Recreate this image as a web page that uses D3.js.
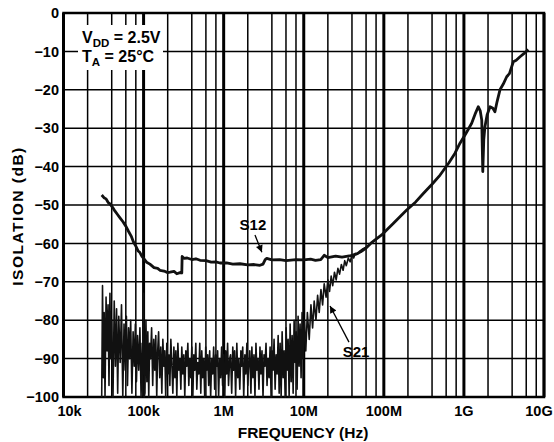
<!DOCTYPE html>
<html>
<head>
<meta charset="utf-8">
<script src="https://cdn.jsdelivr.net/npm/d3@7"></script>
<style>
  body { margin: 0; background: #fff; }
  text { font-family: "Liberation Sans", Arial, sans-serif; font-weight: bold; fill: #000; }
</style>
</head>
<body>
<svg id="chart" width="554" height="442"></svg>
<script>
// axis values
var yTicks = [0, -10, -20, -30, -40, -50, -60, -70, -80, -90, -100];
var xDecades = [1e4, 1e5, 1e6, 1e7, 1e8, 1e9, 1e10];
var xTickLabels = ["10k", "100k", "1M", "10M", "100M", "1G", "10G"];
var minorSteps = [2, 4, 6, 8];

// S12 isolation curve [Hz, dB]
var s12 = [
  [30e3,-47.4],[32e3,-48.1],[34e3,-48.4],[36e3,-49.3],[38e3,-49.7],[41e3,-50.6],[44e3,-51.6],
  [47e3,-52.4],[51e3,-53.4],[55e3,-54.3],[60e3,-55.5],[65e3,-56.9],[70e3,-58.1],[75e3,-59.7],
  [80e3,-60.7],[85e3,-61.9],[90e3,-62.4],[95e3,-63.3],[100e3,-63.9],[109e3,-64.9],[120e3,-65.4],
  [135e3,-66.3],[150e3,-66.5],[160e3,-67.0],[180e3,-67.2],[200e3,-67.6],[214e3,-67.5],[240e3,-67.3],
  [260e3,-67.9],[285e3,-67.6],[300e3,-67.7],[303e3,-63.4],[320e3,-63.9],[350e3,-63.8],[400e3,-64.2],
  [450e3,-64.0],[507e3,-64.4],[600e3,-64.5],[700e3,-64.9],[800e3,-64.8],[900e3,-65.1],[1.09e6,-65.1],
  [1.3e6,-65.4],[1.6e6,-65.3],[2e6,-65.6],[2.4e6,-65.5],[2.84e6,-65.7],[3.1e6,-65.4],[3.3e6,-64.2],
  [3.45e6,-63.9],[4e6,-64.3],[5e6,-64.2],[6e6,-64.5],[8e6,-64.2],[10e6,-64.3],[12.2e6,-64.1],
  [14e6,-64.4],[16.3e6,-64.2],[18e6,-63.1],[20e6,-63.7],[25e6,-63.3],[30e6,-63.6],[38.6e6,-63.2],
  [45e6,-62.8],[51.4e6,-62.2],[60e6,-61.2],[68.5e6,-60.0],[80e6,-58.9],[94e6,-57.8],[110e6,-56.4],
  [131e6,-54.8],[160e6,-53.0],[193e6,-51.3],[250e6,-49.2],[311e6,-47.0],[400e6,-44.6],[504e6,-42.2],
  [650e6,-39.0],[774e6,-36.5],[893e6,-33.9],[1.05e9,-31.5],[1.25e9,-28.7],[1.4e9,-26.0],[1.51e9,-24.4],
  [1.6e9,-25.5],[1.67e9,-27.9],[1.72e9,-41.3],[1.77e9,-33.0],[1.83e9,-29.6],[1.95e9,-26.5],[2.12e9,-24.4],
  [2.3e9,-24.8],[2.44e9,-25.7],[2.6e9,-23.0],[2.82e9,-20.0],[3.1e9,-18.5],[3.42e9,-16.6],[3.7e9,-15.8],
  [4.14e9,-12.7],[4.5e9,-12.3],[5.02e9,-11.4],[5.6e9,-10.6],[6.37e9,-9.5]
];

// S21 isolation curve [Hz, dB] (noisy floor below 10M)
var s21 = [
  [30e3,-100],[30.7e3,-71],[31.5e3,-95],[32.2e3,-78],[33e3,-100],[34e3,-74],[35e3,-88],[36e3,-76],
  [37e3,-97],[38e3,-73],[39e3,-90],[40e3,-80],[41.5e3,-100],[43e3,-75],[44.5e3,-92],[46e3,-77],
  [47.5e3,-99],[49e3,-79],[51e3,-91],[53e3,-76],[55e3,-100],[57e3,-81],[59e3,-93],[61e3,-79],
  [63e3,-97],[65e3,-82],[67e3,-90],[69e3,-80],[71.5e3,-99],[74e3,-83],[76.5e3,-92],[79e3,-81],
  [81.5e3,-96],[84e3,-84],[87e3,-93],[90e3,-82],[93e3,-100],[96e3,-86],[98.5e3,-94],[100e3,-73],
  [101.5e3,-100],[104e3,-99],[107e3,-80],[110e3,-96],[113e3,-83],[116e3,-100],[119e3,-86],[122e3,-90],
  [126e3,-82],[130e3,-97],[134e3,-85],[138e3,-93],[142e3,-84],[146e3,-100],[150e3,-88],[154e3,-83],
  [159e3,-95],[164e3,-87],[169e3,-99],[174e3,-85],[179e3,-92],[184e3,-88],[189e3,-100],[195e3,-86],
  [201e3,-94],[207e3,-89],[213e3,-97],[219e3,-85],[225e3,-91],[232e3,-99],[239e3,-87],[246e3,-95],
  [253e3,-88],[260e3,-100],[268e3,-86],[276e3,-93],[284e3,-90],[292e3,-98],[300e3,-87],[309e3,-94],
  [318e3,-89],[327e3,-100],[337e3,-88],[347e3,-92],[357e3,-86],[367e3,-97],[378e3,-90],[389e3,-95],
  [400e3,-87],[412e3,-100],[424e3,-89],[436e3,-93],[449e3,-86],[462e3,-98],[475e3,-91],[489e3,-94],
  [503e3,-86],[518e3,-99],[533e3,-88],[548e3,-95],[564e3,-90],[580e3,-100],[597e3,-87],[614e3,-93],
  [632e3,-89],[650e3,-97],[669e3,-88],[688e3,-100],[708e3,-90],[729e3,-94],[750e3,-87],[772e3,-98],
  [794e3,-89],[817e3,-92],[841e3,-88],[865e3,-100],[890e3,-90],[916e3,-95],[943e3,-87],[970e3,-97],
  [998e3,-89],
  [1.03e6,-100],[1.06e6,-88],[1.09e6,-94],[1.12e6,-86],[1.15e6,-97],[1.19e6,-90],[1.22e6,-89],
  [1.26e6,-99],[1.3e6,-87],[1.33e6,-93],[1.37e6,-88],[1.41e6,-100],[1.46e6,-86],[1.5e6,-95],
  [1.54e6,-90],[1.59e6,-98],[1.64e6,-88],[1.68e6,-92],[1.73e6,-87],[1.78e6,-100],[1.84e6,-89],
  [1.89e6,-94],[1.95e6,-86],[2.0e6,-97],[2.06e6,-91],[2.12e6,-88],[2.19e6,-99],[2.25e6,-87],
  [2.32e6,-95],[2.39e6,-89],[2.46e6,-100],[2.53e6,-86],[2.6e6,-93],[2.68e6,-90],[2.76e6,-98],
  [2.84e6,-87],[2.92e6,-94],[3.01e6,-88],[3.1e6,-100],[3.19e6,-89],[3.28e6,-92],[3.38e6,-86],
  [3.48e6,-97],[3.58e6,-90],[3.69e6,-95],[3.8e6,-87],[3.91e6,-100],[4.02e6,-88],[4.14e6,-93],
  [4.26e6,-85],[4.39e6,-98],[4.52e6,-89],[4.65e6,-94],[4.79e6,-84],[4.93e6,-99],
  [5.07e6,-86],[5.22e6,-100],[5.37e6,-83],[5.53e6,-95],[5.69e6,-88],[5.86e6,-100],[6.03e6,-82],
  [6.2e6,-93],[6.38e6,-85],[6.57e6,-100],[6.76e6,-81],[6.96e6,-96],[7.16e6,-84],[7.37e6,-99],
  [7.58e6,-80],[7.8e6,-91],[8.03e6,-83],[8.26e6,-98],[8.5e6,-79],[8.75e6,-92],[9.0e6,-81],
  [9.26e6,-95],[9.53e6,-78],[9.81e6,-90],
  [10.2e6,-80],[10.6e6,-88],[11.1e6,-78],[11.7e6,-85],[12.3e6,-76],[12.9e6,-82],[13.5e6,-75],
  [14.2e6,-80],[14.9e6,-73.5],[15.6e6,-78],[16.4e6,-72],[17.2e6,-76],[18e6,-70.5],[19e6,-74],
  [20e6,-69.5],[21e6,-72.5],[22e6,-68.5],[23e6,-71],[24.2e6,-67.5],[25.4e6,-69.5],[26.7e6,-66.5],
  [28e6,-68],[29.5e6,-65.5],[31e6,-67],[32.5e6,-64.5],[34e6,-65.8],[36e6,-63.8],[38e6,-64.8],
  [40e6,-63],[42e6,-63.8],[44e6,-62.6],[47e6,-62.8],[50e6,-62],[55e6,-61.4],[60e6,-61.0],
  [68.5e6,-60.0],[80e6,-58.9]
];

// annotations [label, textHz, textDb, fromHz, fromDb, tipHz, tipDb]
var notes = [
  ["S12", 2.32e6, -56.5, 2.46e6, -57.8, 3.0e6, -62.3],
  ["S21", 45e6, -89.6, 36.7e6, -85.7, 21.3e6, -76.3]
];

var svg = d3.select("#chart");
var x = d3.scaleLog().domain([1e4, 1e10]).range([63.5, 544]);
var y = d3.scaleLinear().domain([-100, 0]).range([397, 13]);

// grid
var minorLines = [];
xDecades.slice(0, -1).forEach(function(d) {
  minorSteps.forEach(function(m) { minorLines.push(d * m); });
});

var grid = svg.append("g");
grid.selectAll(".hgrid").data(yTicks).enter().append("line")
  .attr("x1", x.range()[0]).attr("x2", x.range()[1])
  .attr("y1", function(d) { return y(d); }).attr("y2", function(d) { return y(d); })
  .attr("stroke", "#000").attr("stroke-width", 1.5);
grid.selectAll(".vminor").data(minorLines).enter().append("line")
  .attr("x1", function(d) { return x(d); }).attr("x2", function(d) { return x(d); })
  .attr("y1", y(0)).attr("y2", y(-100))
  .attr("stroke", "#000").attr("stroke-width", 1.5);
grid.selectAll(".vmajor").data(xDecades).enter().append("line")
  .attr("x1", function(d) { return x(d); }).attr("x2", function(d) { return x(d); })
  .attr("y1", y(0)).attr("y2", y(-100))
  .attr("stroke", "#000").attr("stroke-width", 3);

// white box behind conditions text
svg.append("rect").attr("x", 78).attr("y", 25).attr("width", 85).attr("height", 45).attr("fill", "#fff");

// frame
svg.append("rect")
  .attr("x", x.range()[0]).attr("y", y(0))
  .attr("width", x.range()[1] - x.range()[0]).attr("height", y(-100) - y(0))
  .attr("fill", "none").attr("stroke", "#000").attr("stroke-width", 2.5);

// curves
var line = d3.line()
  .x(function(d) { return x(d[0]); })
  .y(function(d) { return y(d[1]); });

svg.append("path").datum(s21).attr("d", line)
  .attr("fill", "none").attr("stroke", "#111").attr("stroke-width", 1.6)
  .attr("stroke-linejoin", "round");
svg.append("path").datum(s12).attr("d", line)
  .attr("fill", "none").attr("stroke", "#111").attr("stroke-width", 2.8)
  .attr("stroke-linejoin", "round");

// axis labels
svg.selectAll(".ylab").data(yTicks).enter().append("text")
  .attr("x", 59).attr("y", function(d) { return y(d); }).attr("dy", "0.36em")
  .attr("text-anchor", "end").style("font-size", "14.5px")
  .text(function(d) { return d === 0 ? "0" : "\u2212" + Math.abs(d); });

svg.selectAll(".xlab").data(xDecades).enter().append("text")
  .attr("x", function(d, i) { return x(d) + (i === 0 ? 6 : i === xDecades.length - 1 ? -5 : 0); })
  .attr("y", 416).attr("text-anchor", "middle").style("font-size", "14.5px")
  .text(function(d, i) { return xTickLabels[i]; });

svg.append("text").attr("x", 303).attr("y", 438).attr("text-anchor", "middle")
  .style("font-size", "15.5px").text("FREQUENCY (Hz)");

svg.append("text").attr("transform", "translate(23,216) rotate(-90)")
  .attr("text-anchor", "middle").style("font-size", "15.5px").style("letter-spacing", "1.5px")
  .text("ISOLATION (dB)");

// conditions
var t1 = svg.append("text").attr("x", 82).attr("y", 43).style("font-size", "16px");
t1.append("tspan").text("V");
t1.append("tspan").attr("dy", 4).style("font-size", "11.5px").text("DD");
t1.append("tspan").attr("dy", -4).text(" = 2.5V");
var t2 = svg.append("text").attr("x", 82).attr("y", 62).style("font-size", "16px");
t2.append("tspan").text("T");
t2.append("tspan").attr("dy", 4).style("font-size", "11.5px").text("A");
t2.append("tspan").attr("dy", -4).text(" = 25\u00B0C");

// arrows + curve names
svg.append("defs").append("marker")
  .attr("id", "arrow").attr("viewBox", "0 0 10 10").attr("refX", 10).attr("refY", 5)
  .attr("markerWidth", 9).attr("markerHeight", 7).attr("markerUnits", "userSpaceOnUse")
  .attr("orient", "auto")
  .append("path").attr("d", "M0,0L10,5L0,10Z").attr("fill", "#000");

notes.forEach(function(n) {
  svg.append("line")
    .attr("x1", x(n[3])).attr("y1", y(n[4])).attr("x2", x(n[5])).attr("y2", y(n[6]))
    .attr("stroke", "#000").attr("stroke-width", 1.3).attr("marker-end", "url(#arrow)");
  svg.append("text").attr("x", x(n[1])).attr("y", y(n[2])).attr("text-anchor", "middle")
    .style("font-size", "15px").text(n[0]);
});
</script>
</body>
</html>
